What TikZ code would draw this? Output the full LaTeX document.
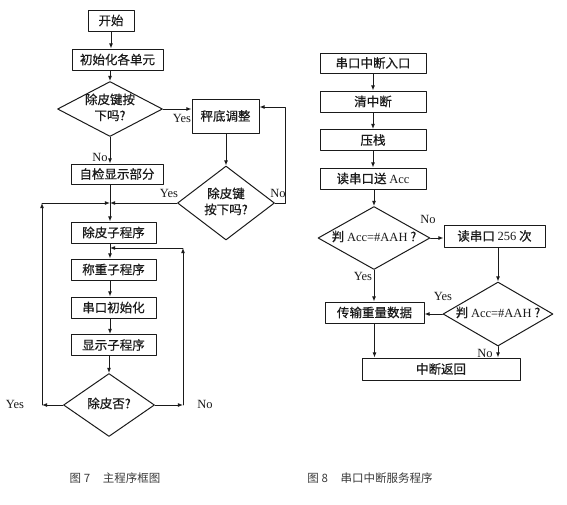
\documentclass[tikz,border=0pt]{standalone}
\usepackage{fontspec}
\setmainfont{Liberation Serif}
\newfontfamily\cjk{Noto Sans CJK SC}[FakeBold=0.6]
\newfontfamily\cjklight{Noto Sans CJK SC}
\usetikzlibrary{arrows.meta,shapes.geometric,calc}
\definecolor{ink}{HTML}{1A1A1A}
\definecolor{capgray}{HTML}{3A3A3A}
\tikzset{
    every picture/.style={line cap=round,line join=round},
    prgbox/.style={draw=ink,line width=1pt,minimum height=21pt,inner sep=1pt,
      font=\cjk\fontsize{12.5}{14}\selectfont,text=ink},
    decision/.style={draw=ink,diamond,aspect=1,inner sep=0pt,line width=1pt,
      font=\cjk\fontsize{12.5}{16}\selectfont,text=ink},
    flowarrow/.style={-{Latex[length=1.8mm,width=1.4mm]},draw=ink,line width=0.9pt},
    flowline/.style={draw=ink,line width=0.9pt},
    yn/.style={font=\fontsize{12.5}{14}\selectfont,text=ink,inner sep=0pt},
    figcap/.style={font=\cjklight\fontsize{11.5}{14}\selectfont,text=capgray,inner sep=0pt}
}
\newcommand\dtext[1]{\makebox[0pt]{\begin{tabular}{@{}c@{}}#1\end{tabular}}}

\begin{document}
\begin{tikzpicture}[x=1pt,y=-1pt]
  \useasboundingbox (0,0) rectangle (567,504);
  % main program
  \node[prgbox,minimum width=46pt] (start) at (111,20.5) {开始};
  \node[prgbox,minimum width=91pt] (init) at (117.5,59.5) {初始化各单元};
  \node[decision,minimum width=105pt,minimum height=55pt] (askA) at (110,109) {\dtext{除皮键按\\下吗?}};
  \node[prgbox,minimum width=67pt,minimum height=34pt] (adjust) at (225.5,116) {秤底调整};
  \node[prgbox,minimum width=92pt,minimum height=20pt] (check) at (117,174) {自检显示部分};
  \node[decision,minimum width=97pt,minimum height=74pt] (askB) at (226,203) {\dtext{除皮键\\按下吗?}};
  \node[prgbox,minimum width=85pt] (tare) at (113.5,232.5) {除皮子程序};
  \node[prgbox,minimum width=85pt] (weigh) at (113.5,269.5) {称重子程序};
  \node[prgbox,minimum width=85pt] (uart) at (113.5,307.5) {串口初始化};
  \node[prgbox,minimum width=85pt] (disp) at (113.5,345) {显示子程序};
  \node[decision,minimum width=91pt,minimum height=63pt] (askC) at (109,405) {\dtext{除皮否?}};
  \coordinate (jtare) at (110,203);
  \coordinate (jweigh) at (110,248);
  \coordinate (lx) at (42,405);
  \coordinate (rx) at (183,405);

  \draw[flowarrow] (start.south) -- (start.south |- init.north);
  \draw[flowarrow] (init.south -| askA.north) -- (askA.north);
  \draw[flowarrow] (askA.east) -- (askA.east -| adjust.west);
  \draw[flowarrow] (askA.south) -- (askA.south |- check.north);
  \draw[flowarrow] (adjust.south -| askB.north) -- (askB.north);
  \draw[flowarrow] (askB.east) -- ++(10.5,0) |- ([yshift=9pt]adjust.east);
  \draw[flowline] (check.south -| jtare) -- (jtare);
  \draw[flowarrow] (askB.west) -- (jtare);
  \draw[flowarrow] (jtare) -- (jtare |- tare.north);
  \draw[flowline] (tare.south -| jweigh) -- (jweigh);
  \draw[flowarrow] (jweigh) -- (jweigh |- weigh.north);
  \draw[flowarrow] (weigh.south -| jtare) -- (uart.north -| jtare);
  \draw[flowarrow] (uart.south -| jtare) -- (disp.north -| jtare);
  \draw[flowarrow] (disp.south -| askC.north) -- (askC.north);
  \draw[flowarrow] (askC.west) -- (lx);
  \draw[flowarrow] (lx) -- (lx |- jtare);
  \draw[flowarrow] (lx |- jtare) -- (jtare);
  \draw[flowarrow] (askC.east) -- (rx);
  \draw[flowarrow] (rx) -- (rx |- jweigh);
  \draw[flowarrow] (rx |- jweigh) -- (jweigh);

  \node[yn] (yesA) at (182,118) {Yes};
  \node[yn] (noA) at (100,157) {No};
  \node[yn] (yesB) at (169,193) {Yes};
  \node[yn] (noB) at (278,193) {No};
  \node[yn] (yesC) at (15,404) {Yes};
  \node[yn] (noC) at (205,404) {No};

  % serial interrupt
  \node[prgbox,minimum width=106pt,minimum height=20pt] (entry) at (373,63) {串口中断入口};
  \node[prgbox,minimum width=106pt] (clr) at (373,101.5) {清中断};
  \node[prgbox,minimum width=106pt] (push) at (373,140) {压栈};
  \node[prgbox,minimum width=106pt] (read) at (373,178.5) {读串口送 \textrm{Acc}};
  \node[decision,minimum width=112pt,minimum height=63pt] (askD) at (374,238) {\dtext{判 \textrm{Acc=\#AAH} ?}};
  \node[prgbox,minimum width=101pt,minimum height=22pt] (readmany) at (494.5,236) {读串口 \textrm{256} 次};
  \node[decision,minimum width=110pt,minimum height=64pt] (askE) at (498,314) {\dtext{判 \textrm{Acc=\#AAH} ?}};
  \node[prgbox,minimum width=99pt] (send) at (374.5,312.5) {传输重量数据};
  \node[prgbox,minimum width=158pt,minimum height=22pt] (ret) at (441,369) {中断返回};

  \draw[flowarrow] (entry.south) -- (clr.north);
  \draw[flowarrow] (clr.south) -- (push.north);
  \draw[flowarrow] (push.south) -- (read.north);
  \draw[flowarrow] (read.south -| askD.north) -- (askD.north);
  \draw[flowarrow] (askD.east) -- (askD.east -| readmany.west);
  \draw[flowarrow] (askD.south) -- (askD.south |- send.north);
  \draw[flowarrow] (readmany.south -| askE.north) -- (askE.north);
  \draw[flowarrow] (askE.west) -- (askE.west -| send.east);
  \draw[flowarrow] (askE.south) -- (askE.south |- ret.north);
  \draw[flowarrow] (send.south) -- (send.south |- ret.north);

  \node[yn] (noD) at (428,219) {No};
  \node[yn] (yesD) at (363,276) {Yes};
  \node[yn] (yesE) at (443,296) {Yes};
  \node[yn] (noE) at (485,353) {No};

  \node[figcap] (cap7) at (115,478) {图 7\hspace{1.1em}主程序框图};
  \node[figcap] (cap8) at (370,478) {图 8\hspace{1.1em}串口中断服务程序};
\end{tikzpicture}
\end{document}
